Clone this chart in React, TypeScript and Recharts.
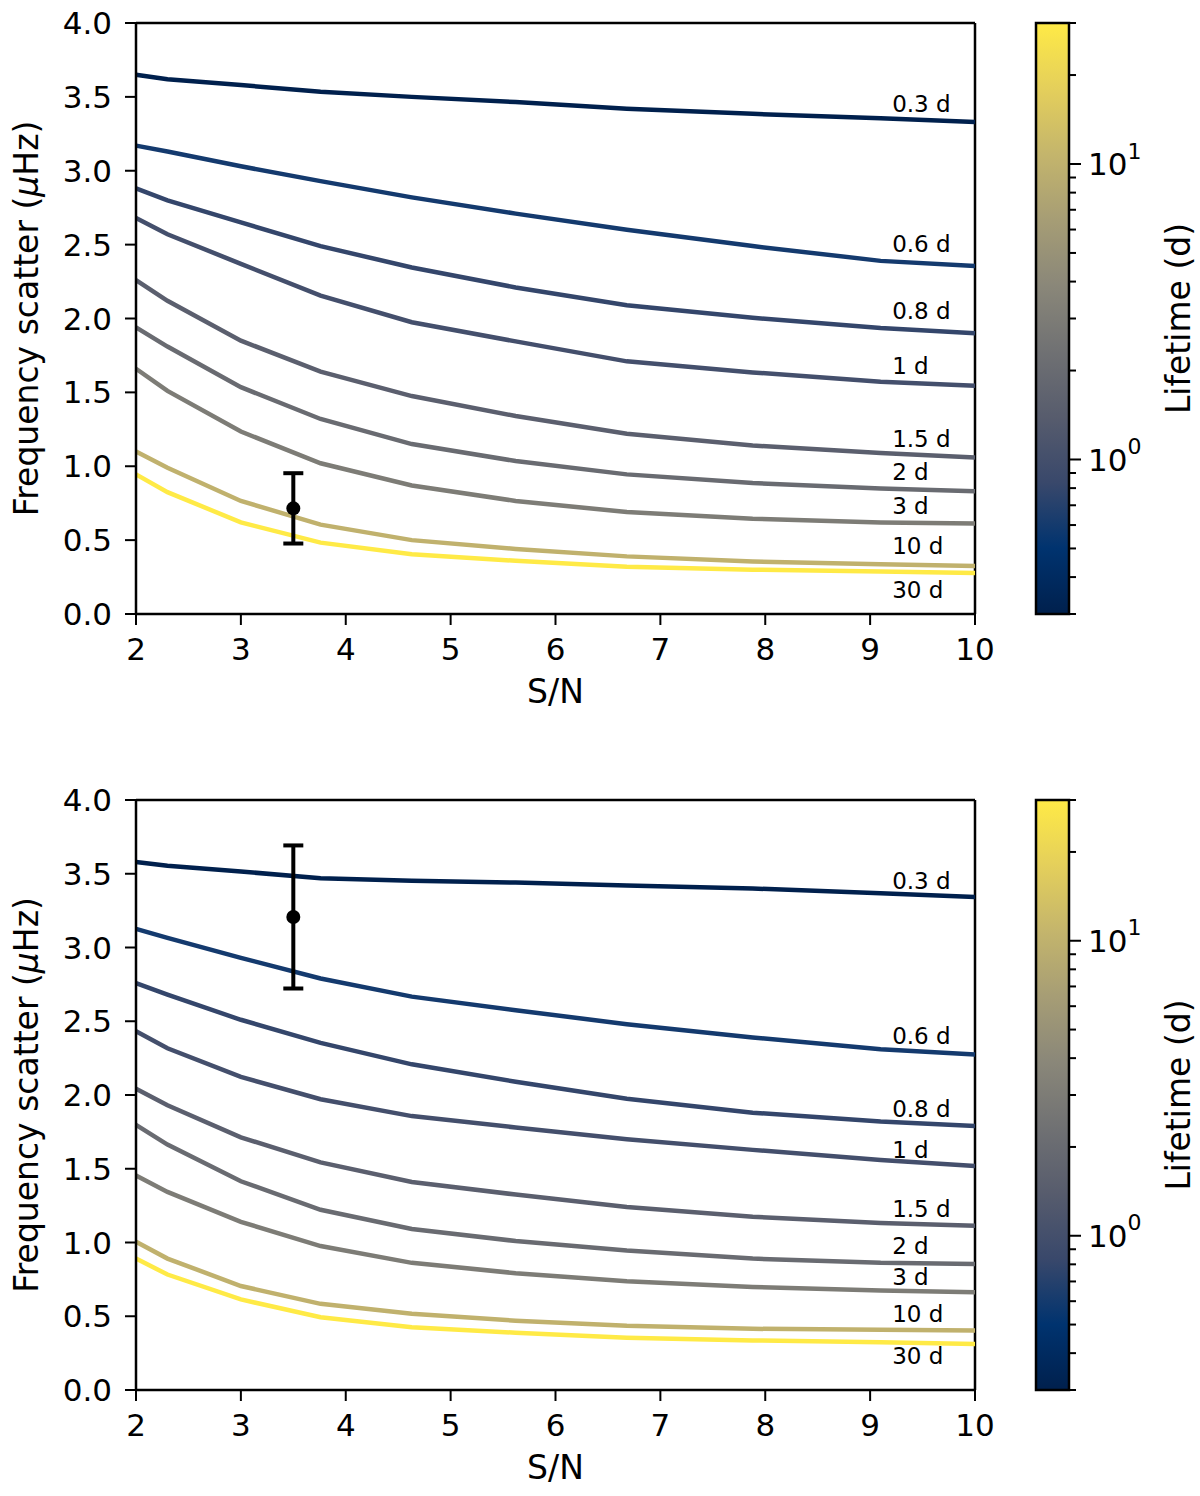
import { ComposedChart, Line, XAxis, YAxis, Scatter, ErrorBar, ReferenceLine, ReferenceDot, Label } from 'recharts';

// S/N grid shared by every curve
const snr = [2, 2.3, 3, 3.76, 4.63, 5.62, 6.68, 7.88, 9.1, 10];

// mode lifetimes (days) and their labels
const lifetimes = [0.3, 0.6, 0.8, 1, 1.5, 2, 3, 10, 30];
const lifetimeLabels = ['0.3 d', '0.6 d', '0.8 d', '1 d', '1.5 d', '2 d', '3 d', '10 d', '30 d'];

// top panel: frequency scatter (uHz)
const top03 = [3.65, 3.62, 3.58, 3.535, 3.5, 3.465, 3.42, 3.385, 3.355, 3.33];
const top06 = [3.17, 3.13, 3.03, 2.93, 2.82, 2.71, 2.6, 2.49, 2.39, 2.355];
const top08 = [2.88, 2.8, 2.65, 2.49, 2.345, 2.21, 2.09, 2.005, 1.935, 1.9];
const top1 = [2.68, 2.57, 2.37, 2.155, 1.975, 1.845, 1.71, 1.635, 1.572, 1.545];
const top15 = [2.26, 2.12, 1.85, 1.64, 1.475, 1.34, 1.22, 1.14, 1.09, 1.06];
const top2 = [1.94, 1.81, 1.535, 1.32, 1.15, 1.035, 0.945, 0.886, 0.85, 0.83];
const top3 = [1.66, 1.51, 1.235, 1.02, 0.87, 0.765, 0.69, 0.645, 0.62, 0.613];
const top10 = [1.1, 0.99, 0.765, 0.605, 0.5, 0.44, 0.39, 0.355, 0.336, 0.325];
const top30 = [0.945, 0.825, 0.62, 0.483, 0.404, 0.36, 0.32, 0.3, 0.288, 0.277];

// bottom panel
const bot03 = [3.58, 3.555, 3.515, 3.47, 3.452, 3.44, 3.42, 3.4, 3.367, 3.343];
const bot06 = [3.126, 3.065, 2.93, 2.79, 2.667, 2.575, 2.48, 2.39, 2.31, 2.275];
const bot08 = [2.758, 2.68, 2.51, 2.353, 2.208, 2.09, 1.975, 1.88, 1.82, 1.79];
const bot1 = [2.432, 2.317, 2.123, 1.971, 1.857, 1.78, 1.7, 1.628, 1.56, 1.519];
const bot15 = [2.043, 1.93, 1.713, 1.543, 1.41, 1.325, 1.24, 1.174, 1.133, 1.114];
const bot2 = [1.797, 1.664, 1.415, 1.222, 1.092, 1.01, 0.945, 0.891, 0.862, 0.855];
const bot3 = [1.454, 1.343, 1.14, 0.976, 0.862, 0.792, 0.738, 0.698, 0.674, 0.662];
const bot10 = [1.005, 0.891, 0.705, 0.584, 0.517, 0.47, 0.435, 0.415, 0.408, 0.403];
const bot30 = [0.891, 0.783, 0.614, 0.493, 0.425, 0.388, 0.355, 0.336, 0.324, 0.312];

// where the curve labels sit
const labelX = 9.21;
const topLabelY = [3.455, 2.509, 2.056, 1.679, 1.189, 0.96, 0.733, 0.462, 0.166];
const botLabelY = [3.452, 2.401, 1.906, 1.628, 1.229, 0.981, 0.771, 0.517, 0.232];

// observed points with 1-sigma errors
const topObs = [{ x: 3.5, y: 0.715, err: 0.238 }];
const botObs = [{ x: 3.5, y: 3.207, err: 0.485 }];

const xTicks = [2, 3, 4, 5, 6, 7, 8, 9, 10];
const yTicks = [0, 0.5, 1, 1.5, 2, 2.5, 3, 3.5, 4];

// colour bar (log scale)
const cbarMin = 0.3;
const cbarMax = 30;
const cbarMajor = [1, 10];
const cbarMinor = [0.3, 0.4, 0.5, 0.6, 0.7, 0.8, 0.9, 2, 3, 4, 5, 6, 7, 8, 9, 20, 30];
const cbarMajorLabels = ['0', '1'];

const cividis = ['#00204d', '#00336f', '#39486b', '#575c6d', '#707173', '#8a8779', '#a69d75', '#c4b56c', '#e4cf5b', '#ffea46'];

const FONT = 'DejaVu Sans';

const logFrac = (v: number) => Math.log10(v / cbarMin) / Math.log10(cbarMax / cbarMin);

const hexToRgb = (h: string) => [1, 3, 5].map((i) => parseInt(h.slice(i, i + 2), 16));

const colorFor = (v: number) => {
  const f = Math.min(1, Math.max(0, logFrac(v))) * (cividis.length - 1);
  const i = Math.min(cividis.length - 2, Math.floor(f));
  const t = f - i;
  const a = hexToRgb(cividis[i]);
  const b = hexToRgb(cividis[i + 1]);
  const c = a.map((av, k) => Math.round(av + (b[k] - av) * t));
  return `rgb(${c[0]},${c[1]},${c[2]})`;
};

const YLabel = ({ viewBox }: any) => {
  const cx = 26;
  const cy = viewBox.y + viewBox.height / 2;
  return (
    <text x={cx} y={cy} transform={`rotate(-90 ${cx} ${cy})`} textAnchor="middle" dominantBaseline="central" fontSize={33} fill="#000" fontFamily={FONT}>
      Frequency scatter (<tspan fontStyle="italic">μ</tspan>Hz)
    </text>
  );
};

interface PanelProps {
  values: number[][];
  labelY: number[];
  obs: { x: number; y: number; err: number }[];
  marginTop: number;
  marginBottom: number;
}

const W = 1200;
const H = 748;

const Panel = ({ values, labelY, obs, marginTop, marginBottom }: PanelProps) => {
  const rows = snr.map((x, i) => {
    const r: Record<string, number> = { x };
    values.forEach((s, j) => {
      r['s' + j] = s[i];
    });
    return r;
  });

  return (
    <ComposedChart width={W} height={H} data={rows} margin={{ top: marginTop, right: 225, bottom: marginBottom, left: 0 }} style={{ fontFamily: FONT }}>
      <XAxis
        type="number"
        dataKey="x"
        domain={[2, 10]}
        ticks={xTicks}
        height={60}
        tickSize={11}
        tickMargin={13}
        axisLine={{ stroke: '#000', strokeWidth: 2.5 }}
        tickLine={{ stroke: '#000', strokeWidth: 2 }}
        tick={{ fill: '#000', fontSize: 31 }}
      >
        <Label value="S/N" position="bottom" offset={6} style={{ fill: '#000', fontSize: 33 }} />
      </XAxis>
      <YAxis
        type="number"
        domain={[0, 4]}
        ticks={yTicks}
        width={136}
        tickSize={11}
        tickMargin={13}
        tickFormatter={(v: number) => v.toFixed(1)}
        axisLine={{ stroke: '#000', strokeWidth: 2.5 }}
        tickLine={{ stroke: '#000', strokeWidth: 2 }}
        tick={{ fill: '#000', fontSize: 31 }}
      >
        <Label content={YLabel} />
      </YAxis>
      <ReferenceLine y={4} stroke="#000" strokeWidth={2.5} />
      <ReferenceLine x={10} stroke="#000" strokeWidth={2.5} />

      {lifetimes.map((d, j) => (
        <Line
          key={d}
          type="linear"
          dataKey={'s' + j}
          stroke={colorFor(d)}
          strokeWidth={4.5}
          dot={false}
          activeDot={false}
          isAnimationActive={false}
        />
      ))}

      {lifetimeLabels.map((txt, j) => (
        <ReferenceDot
          key={txt}
          x={labelX}
          y={labelY[j]}
          r={0}
          shape={(p: any) => (
            <text x={p.cx} y={p.cy} dy="0.36em" fontSize={23} fill="#000" fontFamily={FONT}>
              {txt}
            </text>
          )}
        />
      ))}

      <Scatter
        data={obs}
        dataKey="y"
        isAnimationActive={false}
        shape={(p: any) => <circle cx={p.cx} cy={p.cy} r={7} fill="#000" />}
      >
        <ErrorBar dataKey="err" direction="y" width={10} strokeWidth={4} stroke="#000" isAnimationActive={false} />
      </Scatter>
    </ComposedChart>
  );
};

const ColorBar = ({ top, bottom }: { top: number; bottom: number }) => {
  const x0 = 1036;
  const x1 = 1069;
  const len = bottom - top;
  const yOf = (v: number) => bottom - logFrac(v) * len;
  const id = `cbar${top}`;
  return (
    <svg width={W} height={H} style={{ position: 'absolute', left: 0, top: 0, pointerEvents: 'none' }}>
      <defs>
        <linearGradient id={id} x1="0" y1="1" x2="0" y2="0">
          {cividis.map((c, i) => (
            <stop key={i} offset={`${(i / (cividis.length - 1)) * 100}%`} stopColor={c} />
          ))}
        </linearGradient>
      </defs>
      <rect x={x0} y={top} width={x1 - x0} height={len} fill={`url(#${id})`} stroke="#000" strokeWidth={2.5} />
      {cbarMinor.map((v) => (
        <line key={'m' + v} x1={x1} x2={x1 + 7} y1={yOf(v)} y2={yOf(v)} stroke="#000" strokeWidth={2} />
      ))}
      {cbarMajor.map((v, i) => (
        <g key={'M' + v}>
          <line x1={x1} x2={x1 + 12} y1={yOf(v)} y2={yOf(v)} stroke="#000" strokeWidth={2} />
          <text x={1088} y={yOf(v)} dy="0.36em" fontSize={31} fill="#000" fontFamily={FONT}>
            10
            <tspan dy="-0.75em" fontSize={22}>
              {cbarMajorLabels[i]}
            </tspan>
          </text>
        </g>
      ))}
      <text
        x={1178}
        y={(top + bottom) / 2}
        transform={`rotate(-90 1178 ${(top + bottom) / 2})`}
        textAnchor="middle"
        dominantBaseline="central"
        fontSize={33}
        fill="#000"
        fontFamily={FONT}
      >
        Lifetime (d)
      </text>
    </svg>
  );
};

export default function App() {
  return (
    <div style={{ position: 'absolute', left: 0, top: 0, width: W, height: 2 * H, background: '#fff' }}>
      <div style={{ position: 'absolute', left: 0, top: 0, width: W, height: H }}>
        <Panel
          values={[top03, top06, top08, top1, top15, top2, top3, top10, top30]}
          labelY={topLabelY}
          obs={topObs}
          marginTop={23}
          marginBottom={74}
        />
        <ColorBar top={23} bottom={614} />
      </div>
      <div style={{ position: 'absolute', left: 0, top: H, width: W, height: H }}>
        <Panel
          values={[bot03, bot06, bot08, bot1, bot15, bot2, bot3, bot10, bot30]}
          labelY={botLabelY}
          obs={botObs}
          marginTop={52}
          marginBottom={46}
        />
        <ColorBar top={52} bottom={642} />
      </div>
    </div>
  );
}
